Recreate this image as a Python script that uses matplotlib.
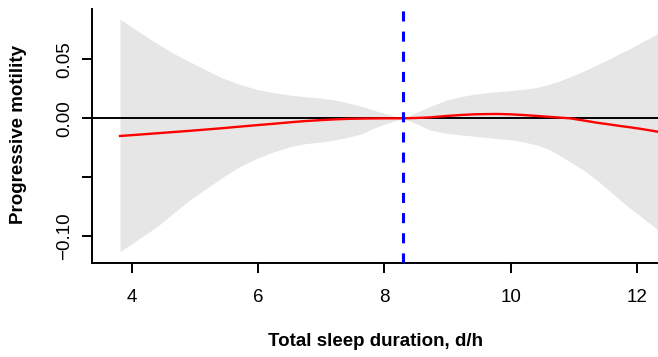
import matplotlib
matplotlib.use("Agg")
import matplotlib.pyplot as plt

# values
sleep_h = [3.815, 4.1, 4.4, 4.65, 4.92, 5.2, 5.45, 5.7, 5.98, 6.25, 6.5, 6.75,
           7.03, 7.25, 7.45, 7.65, 7.82, 8.0, 8.15, 8.3, 8.5, 8.72, 8.98, 9.2,
           9.41, 9.6, 9.78, 10.0, 10.2, 10.4, 10.57, 10.75, 10.94, 11.15, 11.36,
           11.55, 11.73, 11.9, 12.04, 12.2, 12.33]
estimate = [-.0150, -.0139, -.0127, -.0117, -.0106, -.0094, -.0083, -.0071,
            -.0058, -.0046, -.0034, -.0023, -.0014, -.0008, -.0004, -.0002,
            -.0001, 0, 0, 0, .0003, .0008, .0020, .0028, .0034, .0036, .0037,
            .0034, .0028, .0021, .0014, .0007, 0, -.0018, -.0037, -.0051,
            -.0065, -.0077, -.0088, -.0102, -.0114]
upper = [.0844, .0740, .0637, .0555, .0481, .0405, .0340, .0290, .0246, .0218,
         .0198, .0184, .0170, .0152, .0127, .0100, .0071, .0042, .0020, 0,
         .0048, .0099, .0155, .0183, .0204, .0217, .0226, .0236, .0246, .0262,
         .0283, .0313, .0353, .0400, .0453, .0502, .0552, .0596, .0637, .0683,
         .0722]
lower = [-.1133, -.1030, -.0921, -.0810, -.0694, -.0590, -.0496, -.0414,
         -.0340, -.0285, -.0241, -.0215, -.0199, -.0180, -.0158, -.0130,
         -.0085, -.0050, -.0024, 0, -.0045, -.0099, -.0127, -.0140, -.0151,
         -.0162, -.0172, -.0183, -.0200, -.0225, -.0255, -.0307, -.0370,
         -.0440, -.0524, -.0610, -.0694, -.0770, -.0826, -.0893, -.0949]
ref_x = 8.3
xticks = [4, 6, 8, 10, 12]
yticks = [-0.10, -0.05, 0.00, 0.05]
ytick_labels = ['\u22120.10', '', '0.00', '0.05']

plt.rcParams['font.family'] = ['Liberation Sans', 'DejaVu Sans']
fs = 13.5

fig = plt.figure(figsize=(6.58, 3.57), dpi=100)
ax = fig.add_axes([92 / 658, 1 - 262.5 / 357, 1 - 92 / 658, (262.5 - 9) / 357])

ax.fill_between(sleep_h, lower, upper, color='#e6e6e6', lw=0, zorder=1)
ax.axhline(0, color='black', lw=1.4, zorder=2)
ax.plot(sleep_h, estimate, color='red', lw=1.7, zorder=3)
vl = ax.axvline(ref_x, color='blue', lw=2.2, zorder=4)
vl.set_dashes([3.3, 3.3])

ax.set_xlim(3.372, 12.33)
ax.set_ylim(-0.1225, 0.0929)
ax.set_xticks(xticks)
ax.set_xticklabels([str(t) for t in xticks])
ax.set_yticks(yticks)
ax.set_yticklabels(ytick_labels, rotation=90, va='center')

for s in ['top', 'right']:
    ax.spines[s].set_visible(False)
for s in ['left', 'bottom']:
    ax.spines[s].set_linewidth(1.4)
ax.tick_params(axis='both', direction='out', length=7.5, width=1.4, labelsize=fs)
ax.tick_params(axis='x', pad=11.5)
ax.tick_params(axis='y', pad=6)

fig.text(375 / 658, 1 - 346 / 357, 'Total sleep duration, d/h', ha='center',
         va='baseline', fontsize=fs, fontweight='bold')
fig.text(19 / 658, 1 - 134 / 357, 'Progressive motility', ha='center',
         va='center', rotation=90, fontsize=fs, fontweight='bold')

fig.savefig('out.png', dpi=100)
